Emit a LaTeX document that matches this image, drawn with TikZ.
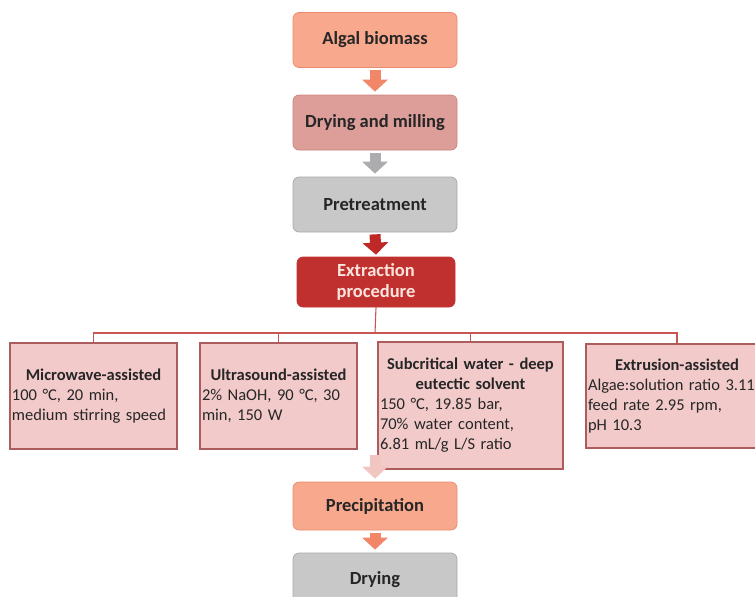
\documentclass[tikz,border=0pt]{standalone}
\usepackage{fontspec}
\setmainfont{Carlito}
\usetikzlibrary{arrows.meta}
\definecolor{textdark}{RGB}{38,38,38}
\definecolor{salmonfill}{RGB}{248,168,140}
\definecolor{salmonline}{RGB}{232,140,112}
\definecolor{dustyfill}{RGB}{221,158,154}
\definecolor{dustyline}{RGB}{200,132,128}
\definecolor{greyfill}{RGB}{201,200,201}
\definecolor{greyline}{RGB}{168,168,170}
\definecolor{extractfill}{RGB}{192,48,46}
\definecolor{extracttext}{RGB}{252,228,222}
\definecolor{methodfill}{RGB}{243,202,202}
\definecolor{methodline}{RGB}{172,92,92}
\definecolor{branchline}{RGB}{200,84,84}
\definecolor{arrowsalmon}{RGB}{242,134,104}
\definecolor{arrowgrey}{RGB}{172,172,174}
\definecolor{arrowred}{RGB}{190,40,38}
\definecolor{arrowpink}{RGB}{242,198,192}
\begin{document}
\begin{tikzpicture}[x=1pt, y=-1pt,
  stagebox/.style={rectangle, rounded corners=6pt, minimum width=164pt,
    minimum height=55pt, inner sep=2pt, line width=0.7pt, align=center,
    font=\fontsize{18.5}{21}\selectfont\bfseries, text=textdark},
  methodbox/.style={rectangle, draw=methodline, fill=methodfill,
    line width=1.2pt, align=left, inner xsep=2pt, inner ysep=2pt,
    font=\fontsize{16.5}{20}\selectfont, text=textdark},
  branch/.style={draw=branchline, line width=1.1pt},
  flowarrow/.style={draw=#1, line width=11pt,
    -{Triangle[width=25pt,length=12pt]}}]
\useasboundingbox (0,0) rectangle (755,597);
\clip (0,0) rectangle (755,597);
% main chain
\node[stagebox, fill=salmonfill, draw=salmonline] (algae) at (375,40) {Algal biomass};
\node[stagebox, fill=dustyfill, draw=dustyline] (drymill) at (375,122.5) {Drying and milling};
\node[stagebox, fill=greyfill, draw=greyline] (pret) at (375,204.5) {Pretreatment};
\node[stagebox, fill=extractfill, draw=extractfill, text=extracttext,
  minimum width=158pt, minimum height=50pt] (extract) at (376,282) {Extraction\\procedure};
% methods
\node[methodbox, text width=163pt, minimum height=106pt] (micro) at (93.5,396)
  {{\centering\bfseries Microwave-assisted\par}100 °C, 20 min,\\medium stirring speed};
\node[methodbox, text width=153pt, minimum height=106pt] (ultra) at (278.5,396)
  {{\centering\bfseries Ultrasound-assisted\par}2\% NaOH, 90 °C, 30\\min, 150 W};
\node[methodbox, text width=181pt, minimum height=127pt] (subcrit) at (470.5,405.5)
  {{\centering\bfseries Subcritical water - deep\\eutectic solvent\par}150 °C, 19.85 bar,\\70\% water content,\\6.81 mL/g L/S ratio};
\node[methodbox, text width=178pt, minimum height=104pt] (extru) at (677,396)
  {{\centering\bfseries Extrusion-assisted\par}Algae:solution ratio 3.11\\feed rate 2.95 rpm,\\pH 10.3};
% branches
\coordinate (split) at (375,333);
\draw[branch] (extract.south) -- (split);
\draw[branch] (micro.north) |- (split) -| (extru.north);
\draw[branch] (ultra.north) |- (split);
\draw[branch] (subcrit.north) |- (split);
% after extraction
\node[stagebox, fill=salmonfill, draw=salmonline, minimum height=48pt] (precip) at (375,506) {Precipitation};
\node[stagebox, fill=greyfill, draw=greyline, minimum height=54pt] (drying) at (375,580) {Drying};
\coordinate (merge) at (375,455);
% block arrows
\draw[flowarrow=arrowsalmon] ([yshift=-2pt]algae.south) -- ([yshift=3pt]drymill.north);
\draw[flowarrow=arrowgrey] ([yshift=-3pt]drymill.south) -- ([yshift=3pt]pret.north);
\draw[flowarrow=arrowred] ([yshift=-2pt]pret.south) -- ([yshift=2pt]extract.north);
\draw[flowarrow=arrowpink] (merge) -- ([yshift=3pt]precip.north);
\draw[flowarrow=arrowsalmon] ([yshift=-3pt]precip.south) -- ([yshift=3pt]drying.north);
\end{tikzpicture}
\end{document}
